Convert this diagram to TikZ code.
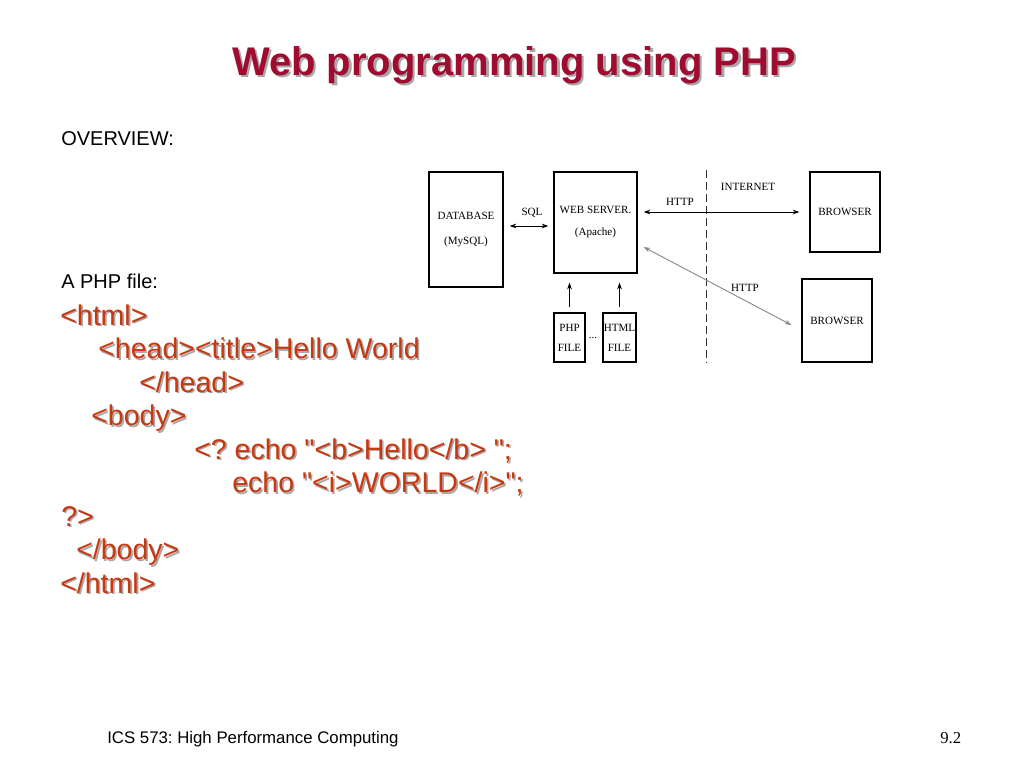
\documentclass[tikz,border=0pt]{standalone}
\usepackage{fontspec}
\setmainfont{Liberation Sans}
\newfontfamily\diagserif{Liberation Serif}
\usetikzlibrary{calc,arrows.meta}
\frenchspacing
\definecolor{titlered}{HTML}{A00C30}
\definecolor{codered}{HTML}{C8380F}
\definecolor{shadowgrey}{HTML}{A8A8A8}
\definecolor{diaggrey}{HTML}{8A8A8A}
\newcommand{\shd}[2]{\makebox[0pt][l]{\raisebox{-#1}{\hspace{#1}\textcolor{shadowgrey}{#2}}}#2}
\newcommand{\qd}{\textquotedbl}
\tikzset{
  plain/.style={anchor=base west, inner sep=0, font=\fontsize{15}{18}\selectfont},
  titletext/.style={anchor=base, inner sep=0, font=\fontsize{30}{36}\selectfont\bfseries, text=titlered},
  codetext/.style={anchor=base west, inner sep=0, font=\fontsize{21.4}{25}\selectfont, text=codered},
  box/.style={draw, line width=0.9pt, inner sep=0, align=center, font=\diagserif\fontsize{8.3}{10}\selectfont},
  dlabel/.style={inner sep=0, font=\diagserif\fontsize{8.3}{10}\selectfont},
  conn/.style={line width=0.7pt, {Stealth[length=5pt,width=3.5pt]}-{Stealth[length=5pt,width=3.5pt]}},
  upconn/.style={line width=0.7pt, -{Stealth[length=5pt,width=3.5pt]}},
}
\begin{document}
\begin{tikzpicture}[x=0.75pt,y=-0.75pt]
\useasboundingbox (0,0) rectangle (1024,768);
% title
\node[titletext] (title) at (514,75) {\shd{1.9pt}{Web programming using PHP}};
% plain texts
\node[plain] (overview) at (61,145) {OVERVIEW:};
\node[plain] (phpfile) at (61,288) {A PHP file:};
% code lines
\node[codetext] (c1) at (60,325) {\shd{1.2pt}{<html>}};
\node[codetext] (c2) at (98,358.5) {\shd{1.2pt}{<head><title>Hello World}};
\node[codetext] (c3) at (139,392) {\shd{1.2pt}{</head>}};
\node[codetext] (c4) at (91,425.5) {\shd{1.2pt}{<body>}};
\node[codetext] (c5) at (194,459) {\shd{1.2pt}{<? echo \qd<b>Hello</b> \qd;}};
\node[codetext] (c6) at (232,492.5) {\shd{1.2pt}{echo \qd<i>WORLD</i>\qd;}};
\node[codetext] (c7) at (61,526) {\shd{1.2pt}{?>}};
\node[codetext] (c8) at (76,559.5) {\shd{1.2pt}{</body>}};
\node[codetext] (c9) at (60,593) {\shd{1.2pt}{</html>}};
% footer
\node[anchor=base west, inner sep=0, font=\fontsize{12.6}{15}\selectfont] (footer) at (107,743) {ICS 573: High Performance Computing};
\node[anchor=base west, inner sep=0, font=\diagserif\fontsize{12.5}{15}\selectfont] (pageno) at (940,743) {9.2};
% diagram boxes
\node[box, minimum width=74*0.75pt, minimum height=115*0.75pt] (db) at (466,229.5) {DATABASE\\[9pt](MySQL)};
\node[box, minimum width=83*0.75pt, minimum height=101*0.75pt] (ws) at (595.5,222.5) {WEB SERVER.\\[6.5pt](Apache)};
\node[box, minimum width=70*0.75pt, minimum height=80*0.75pt] (b1) at (845,212) {BROWSER};
\node[box, minimum width=70*0.75pt, minimum height=83*0.75pt] (b2) at (837,320.5) {BROWSER};
\node[box, minimum width=31*0.75pt, minimum height=49*0.75pt] (php) at (569.5,337.5) {PHP\\[5pt]FILE};
\node[box, minimum width=33*0.75pt, minimum height=49*0.75pt] (html) at (619.5,337.5) {HTML\\[5pt]FILE};
\node[dlabel] (dots) at (593,338) {...};
% dashed internet boundary
\coordinate (dtop) at (706,170);
\coordinate (dbot) at (706,363);
\draw[line width=0.7pt, dash pattern=on 6pt off 3pt, draw=black!80] (dtop) -- (dbot);
% labels
\node[dlabel] (sql) at (532,213) {SQL};
\node[dlabel] (http1) at (680,202) {HTTP};
\node[dlabel] (internet) at (748,187) {INTERNET};
\node[dlabel] (http2) at (745,288) {HTTP};
% connectors
\coordinate (sqly) at (0,226);
\draw[conn] ($(db.east |- sqly)+(6,0)$) -- ($(ws.west |- sqly)+(-5,0)$);
\draw[conn] ($(ws.east |- b1.west)+(6,0)$) -- ($(b1.west)+(-10,0)$);
\draw[conn, draw=diaggrey] ($(ws.east)+(6,24.5)$) -- ($(b2.west)+(-10,4.5)$);
\draw[upconn] ($(php.north)+(0,-5)$) -- ($(php.north |- ws.south)+(0,9)$);
\draw[upconn] ($(html.north)+(0,-5)$) -- ($(html.north |- ws.south)+(0,9)$);
\end{tikzpicture}
\end{document}
